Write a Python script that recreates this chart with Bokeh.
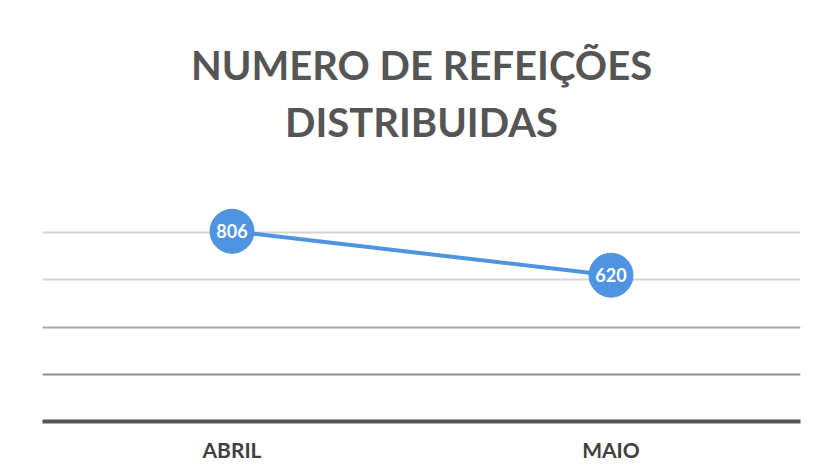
from bokeh.plotting import figure
from bokeh.models import FactorRange, Range1d, FixedTicker, ColumnDataSource, Title, Grid
from bokeh.core.properties import value
from bokeh.embed import file_html
from bokeh.resources import INLINE

months = ["ABRIL", "MAIO"]
meals = [806, 620]
labels = [str(v) for v in meals]
title_lines = ["NUMERO DE REFEIÇÕES", "DISTRIBUIDAS"]
light_grid = [600, 800]
mid_grid = [400]
dark_grid = [200]

src = ColumnDataSource(dict(x=months, y=meals, t=labels))

p = figure(width=806, height=474, output_backend="svg", toolbar_location=None,
           x_range=FactorRange(*months, range_padding=0), y_range=Range1d(0, 1000),
           min_border_left=42, min_border_right=6, min_border_bottom=53, min_border_top=185)
p.outline_line_color = None
p.background_fill_color = "white"
p.border_fill_color = "white"
p.title.visible = False

def add_title(txt, standoff):
    t = Title(text=txt, align="center", text_font="Lato", text_font_style="bold",
              text_font_size="40px", text_color="#555555", standoff=standoff)
    p.add_layout(t, "above")

add_title(title_lines[1], 80)
add_title(title_lines[0], -67)

p.yaxis.visible = False
p.ygrid.ticker = FixedTicker(ticks=light_grid)
p.ygrid.grid_line_color = "#d4d4d4"
p.ygrid.grid_line_width = 2
p.xgrid.visible = False
p.add_layout(Grid(dimension=1, ticker=FixedTicker(ticks=mid_grid), grid_line_color="#a8a8a8", grid_line_width=2))
p.add_layout(Grid(dimension=1, ticker=FixedTicker(ticks=dark_grid), grid_line_color="#8f8f8f", grid_line_width=2))

p.xaxis.axis_line_color = "#555555"
p.xaxis.axis_line_width = 4
p.xaxis.major_tick_line_color = None
p.xaxis.minor_tick_line_color = None
p.xaxis.major_label_text_font = "Lato"
p.xaxis.major_label_text_font_style = "bold"
p.xaxis.major_label_text_font_size = "21px"
p.xaxis.major_label_text_color = "#404040"
p.xaxis.major_label_standoff = 9

p.line("x", "y", source=src, line_color="#4f94e0", line_width=4)
p.scatter("x", "y", source=src, size=44, fill_color="#4f94e0", line_color="#4f94e0")
p.text("x", "y", text="t", source=src, text_color="white", text_font=value("Lato"),
       text_font_style="bold", text_font_size="18px", text_align="center", text_baseline="middle")

open("out.html", "w").write(file_html(p, INLINE))
